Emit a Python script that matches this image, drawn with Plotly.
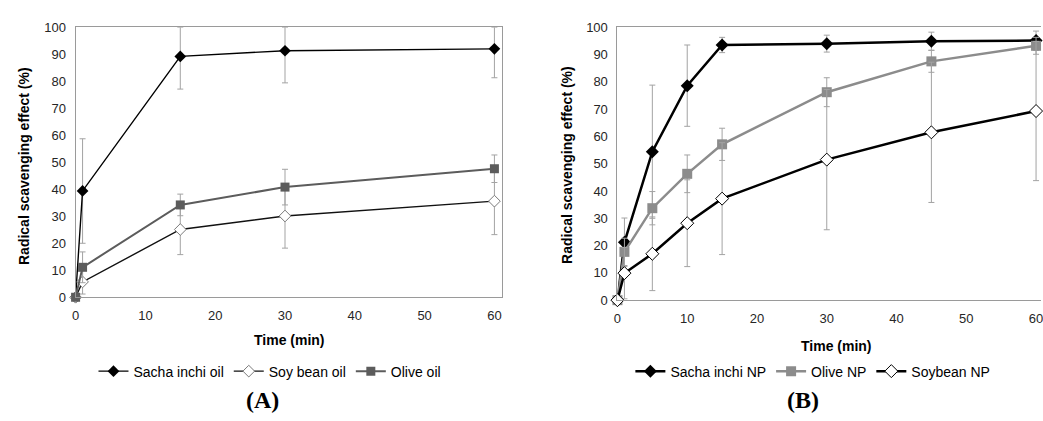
import plotly.graph_objects as go

# ---------------- Data: panel A (oils) ----------------
time_a = [0, 1, 15, 30, 60]
sacha_oil = [0, 39.4, 89.2, 91.3, 92.0]
sacha_oil_err_up = [0, 19.3, 10.8, 8.7, 8.0]
sacha_oil_err_lo = [0, 19.4, 12.1, 11.9, 10.7]
soy_oil = [0, 5.7, 25.1, 30.1, 35.6]
soy_oil_err = [0, 4.5, 9.3, 11.9, 12.4]
olive_oil = [0, 11.1, 34.2, 40.8, 47.6]
olive_oil_err = [0, 5.7, 4.0, 6.6, 5.1]

# ---------------- Data: panel B (nanoparticles) ----------------
time_b = [0, 1, 5, 10, 15, 30, 45, 60]
sacha_np = [0, 21.2, 54.4, 78.6, 93.5, 94.0, 94.9, 95.1]
sacha_np_err = [0, 8.9, 24.4, 14.9, 2.8, 3.1, 3.3, 3.5]
olive_np = [0, 17.7, 33.7, 46.3, 57.1, 76.2, 87.5, 93.2]
olive_np_err = [0, 5.0, 6.1, 6.9, 5.9, 5.3, 4.0, 3.1]
soy_np = [0, 9.9, 17.0, 28.2, 37.2, 51.5, 61.5, 69.3]
soy_np_err = [0, 9.4, 13.5, 15.9, 20.5, 25.7, 25.7, 25.5]

x_ticks = [0, 10, 20, 30, 40, 50, 60]
y_ticks = [0, 10, 20, 30, 40, 50, 60, 70, 80, 90, 100]

W, H = 1043, 421
ERR_COLOR = "#a3a3a3"
AXIS_COLOR = "#9a9a9a"
FONT = "Liberation Sans, Arial, sans-serif"


def err(arr, arrminus=None):
    d = dict(type="data", array=arr, color=ERR_COLOR, thickness=1, width=3, visible=True)
    if arrminus is not None:
        d["symmetric"] = False
        d["arrayminus"] = arrminus
    return d


fig = go.Figure()

# Panel A
fig.add_trace(go.Scatter(
    x=time_a, y=sacha_oil, name="Sacha inchi oil", mode="lines+markers",
    line=dict(color="#000000", width=1.4),
    marker=dict(symbol="diamond", size=9, color="#000000"),
    error_y=err(sacha_oil_err_up, sacha_oil_err_lo),
    xaxis="x", yaxis="y", legend="legend", cliponaxis=False))
fig.add_trace(go.Scatter(
    x=time_a, y=soy_oil, name="Soy bean oil", mode="lines+markers",
    line=dict(color="#111111", width=1.4),
    marker=dict(symbol="diamond", size=9, color="#ffffff", line=dict(color="#7a7a7a", width=1)),
    error_y=err(soy_oil_err),
    xaxis="x", yaxis="y", legend="legend", cliponaxis=False))
fig.add_trace(go.Scatter(
    x=time_a, y=olive_oil, name="Olive oil", mode="lines+markers",
    line=dict(color="#5c5c5c", width=2),
    marker=dict(symbol="square", size=9, color="#5c5c5c"),
    error_y=err(olive_oil_err),
    xaxis="x", yaxis="y", legend="legend", cliponaxis=False))

# Panel B
fig.add_trace(go.Scatter(
    x=time_b, y=sacha_np, name="Sacha inchi NP", mode="lines+markers",
    line=dict(color="#000000", width=2.5),
    marker=dict(symbol="diamond", size=10, color="#000000"),
    error_y=err(sacha_np_err),
    xaxis="x2", yaxis="y2", legend="legend2", cliponaxis=False))
fig.add_trace(go.Scatter(
    x=time_b, y=olive_np, name="Olive NP", mode="lines+markers",
    line=dict(color="#8c8c8c", width=2.5),
    marker=dict(symbol="square", size=10, color="#8c8c8c"),
    error_y=err(olive_np_err),
    xaxis="x2", yaxis="y2", legend="legend2", cliponaxis=False))
fig.add_trace(go.Scatter(
    x=time_b, y=soy_np, name="Soybean NP", mode="lines+markers",
    line=dict(color="#000000", width=2.5),
    marker=dict(symbol="diamond", size=10, color="#ffffff", line=dict(color="#000000", width=1)),
    error_y=err(soy_np_err),
    xaxis="x2", yaxis="y2", legend="legend2", cliponaxis=False))

tickfont = dict(family=FONT, size=13, color="#262626")

axis_common = dict(showgrid=False, zeroline=False, showline=True, linecolor=AXIS_COLOR,
                   linewidth=1, ticks="", tickfont=tickfont, ticklabelstandoff=6)

legend_common = dict(orientation="h", xanchor="left", yanchor="middle",
                     font=dict(family=FONT, size=14, color="#000000"),
                     bgcolor="rgba(0,0,0,0)", itemwidth=30, tracegroupgap=0)

fig.update_layout(
    width=W, height=H,
    margin=dict(l=0, r=0, t=0, b=0),
    paper_bgcolor="white", plot_bgcolor="white",
    font=dict(family=FONT, color="#000000"),
    xaxis=dict(domain=[72 / W, 500.7 / W], range=[0, 61.06], tickvals=x_ticks,
               mirror=True, anchor="y", **axis_common),
    yaxis=dict(domain=[1 - 301 / H, 1 - 21 / H], range=[0, 100], tickvals=y_ticks,
               mirror=True, anchor="x", **axis_common),
    xaxis2=dict(domain=[617 / W, 1.0], range=[0, 60.71], tickvals=x_ticks,
                mirror=True, anchor="y2", ticklabeloverflow="allow", **axis_common),
    yaxis2=dict(domain=[1 - 304 / H, 1 - 21 / H], range=[0, 100], tickvals=y_ticks,
                mirror=False, anchor="x2", **axis_common),
    legend=dict(x=90 / W, y=1 - 378 / H, **legend_common),
    legend2=dict(x=630 / W, y=1 - 378 / H, **legend_common),
    showlegend=True,
)

ann = []
title_font = dict(family=FONT, size=14, color="#000000")
ann.append(dict(text="<b>Radical scavenging effect (%)</b>", x=20 / W, y=1 - 165 / H,
                xref="paper", yref="paper", textangle=-90, showarrow=False, font=title_font,
                xanchor="center", yanchor="middle"))
ann.append(dict(text="<b>Radical scavenging effect (%)</b>", x=566 / W, y=1 - 164 / H,
                xref="paper", yref="paper", textangle=-90, showarrow=False, font=title_font,
                xanchor="center", yanchor="middle"))
ann.append(dict(text="<b>Time (min)</b>", x=287 / W, y=1 - 345 / H, xref="paper", yref="paper",
                showarrow=False, font=title_font, xanchor="center", yanchor="middle"))
ann.append(dict(text="<b>Time (min)</b>", x=837 / W, y=1 - 352 / H, xref="paper", yref="paper",
                showarrow=False, font=title_font, xanchor="center", yanchor="middle"))
panel_font = dict(family="Liberation Serif, DejaVu Serif, serif", size=24, color="#000000")
ann.append(dict(text="<b>(A)</b>", x=260 / W, y=1 - 408 / H, xref="paper", yref="paper",
                showarrow=False, font=panel_font, xanchor="center", yanchor="middle"))
ann.append(dict(text="<b>(B)</b>", x=804 / W, y=1 - 408 / H, xref="paper", yref="paper",
                showarrow=False, font=panel_font, xanchor="center", yanchor="middle"))
fig.update_layout(annotations=ann)

fig.write_html("out.html")
